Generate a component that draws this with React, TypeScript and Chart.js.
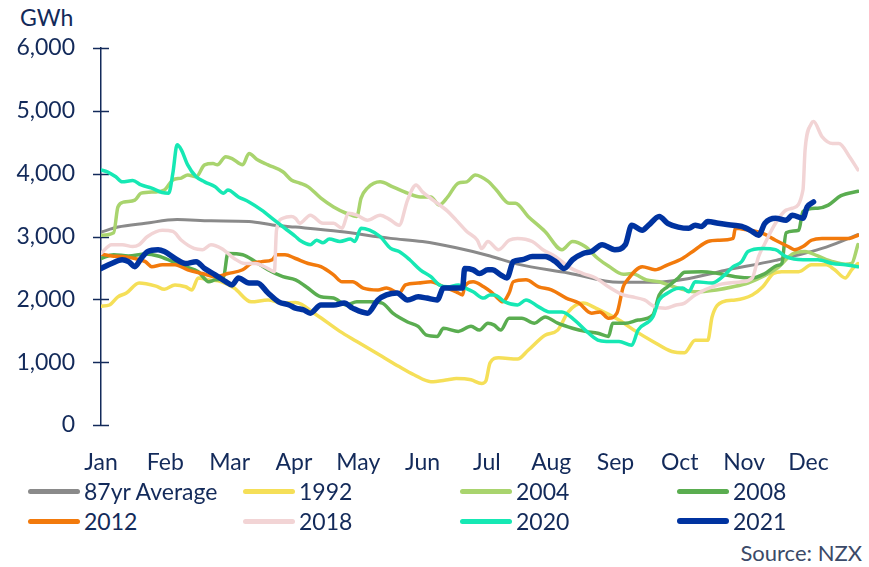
import React, { useEffect, useRef } from "react";
import { Chart, registerables } from "chart.js";

Chart.register(...registerables);

const MONTHS = ["Jan", "Feb", "Mar", "Apr", "May", "Jun", "Jul", "Aug", "Sep", "Oct", "Nov", "Dec"];
const Y_MIN = 0;
const Y_MAX = 6000;
const Y_STEP = 1000;
const X_MAX_DAY = 358.5;

// [day of year, GWh]
const AVG87: [number, number][] = [[0,3070],[8,3150],[21,3210],[36,3270],[52,3250],[70,3240],[82,3180],[92,3150],[113,3080],[137,2970],[152,2920],[168,2820],[184,2690],[197,2560],[221,2420],[245,2270],[261,2270],[276,2320],[295,2460],[319,2620],[343,2830],[358,3030]];

const Y1992: [number, number][] = [[0,1890],[4,1910],[8,2040],[12,2100],[18,2260],[26,2210],[30,2160],[35,2230],[40,2200],[43,2150],[46,2340],[51,2310],[57,2280],[63,2180],[71,1960],[79,1990],[86,1940],[92,1950],[102,1750],[113,1490],[121,1330],[129,1170],[133,1090],[141,930],[148,800],[156,690],[164,720],[168,740],[175,720],[180,660],[182,700],[184,990],[188,1070],[197,1050],[202,1190],[210,1430],[216,1510],[221,1800],[228,1940],[234,1860],[245,1670],[253,1490],[261,1330],[270,1170],[276,1150],[281,1350],[287,1350],[289,1720],[294,1960],[300,1990],[308,2070],[313,2200],[318,2410],[322,2440],[330,2440],[336,2550],[343,2550],[347,2470],[352,2340],[355,2470],[358,2570]];

const Y2004: [number, number][] = [[0,3020],[6,3060],[8,3470],[11,3550],[16,3580],[19,3690],[26,3710],[30,3740],[34,3900],[38,3930],[41,3980],[45,3950],[49,4140],[53,4160],[55,4140],[59,4270],[62,4240],[67,4140],[70,4320],[74,4220],[79,4140],[86,4030],[90,3900],[94,3850],[98,3790],[104,3610],[110,3470],[116,3370],[121,3320],[123,3610],[126,3770],[132,3870],[138,3790],[145,3690],[151,3630],[156,3630],[160,3500],[164,3630],[169,3850],[173,3870],[177,3980],[183,3880],[187,3740],[193,3530],[196,3530],[202,3320],[210,3080],[218,2790],[223,2920],[229,2840],[235,2650],[240,2530],[247,2400],[251,2410],[258,2310],[264,2280],[270,2210],[276,2150],[281,2120],[291,2150],[299,2200],[306,2260],[314,2380],[320,2500],[327,2720],[333,2760],[339,2690],[346,2600],[352,2560],[355,2570],[358,2870]];

const Y2008: [number, number][] = [[0,2650],[6,2710],[13,2690],[21,2720],[27,2690],[34,2600],[40,2520],[46,2440],[51,2280],[54,2310],[58,2360],[60,2730],[67,2710],[73,2600],[79,2470],[86,2360],[92,2310],[97,2200],[104,2040],[110,2020],[116,1910],[121,1960],[127,1960],[133,1940],[138,1780],[145,1640],[150,1570],[154,1430],[159,1410],[162,1540],[169,1490],[175,1570],[179,1510],[183,1620],[186,1590],[189,1510],[193,1700],[199,1700],[205,1620],[210,1720],[216,1620],[223,1540],[229,1490],[235,1460],[240,1410],[242,1620],[248,1620],[254,1670],[261,1750],[264,2070],[268,2200],[273,2340],[276,2430],[284,2440],[292,2410],[300,2360],[308,2340],[314,2410],[320,2540],[322,2570],[324,3060],[330,3100],[332,3400],[339,3450],[344,3500],[350,3650],[358,3720]];

const Y2012: [number, number][] = [[0,2720],[5,2690],[10,2680],[16,2650],[21,2600],[24,2520],[29,2550],[35,2550],[41,2470],[48,2410],[54,2360],[60,2410],[67,2470],[71,2570],[76,2600],[81,2630],[83,2710],[87,2710],[92,2650],[98,2570],[104,2520],[110,2390],[114,2280],[119,2280],[124,2180],[131,2150],[135,2180],[141,2100],[144,2230],[150,2260],[156,2280],[162,2200],[168,2120],[171,2070],[172,2200],[176,2280],[181,2200],[184,2130],[187,2040],[190,1960],[193,2100],[195,2280],[201,2310],[207,2200],[213,2150],[220,2020],[226,1940],[232,1780],[236,1800],[240,1700],[244,1780],[247,2200],[249,2310],[256,2520],[262,2470],[268,2550],[275,2650],[281,2790],[287,2920],[292,2940],[299,2970],[300,3130],[306,3100],[313,3050],[319,2940],[325,2840],[328,2790],[332,2840],[336,2940],[341,2970],[347,2970],[354,2970],[358,3020]];

const Y2018: [number, number][] = [[0,2730],[5,2870],[10,2870],[15,2840],[18,2870],[22,3000],[29,3100],[34,3080],[38,2940],[44,2810],[48,2790],[52,2870],[57,2810],[63,2650],[68,2570],[73,2570],[79,2490],[82,2440],[83,3100],[86,3290],[90,3320],[92,3290],[94,3210],[99,3340],[105,3210],[110,3210],[114,3130],[117,3370],[121,3340],[126,3260],[132,3340],[137,3260],[141,3180],[145,3580],[149,3820],[152,3710],[157,3580],[164,3400],[168,3260],[173,3080],[178,2940],[180,2810],[183,2920],[188,2790],[193,2940],[197,2970],[204,2920],[209,2790],[215,2680],[221,2520],[228,2410],[234,2340],[240,2200],[247,2070],[251,2040],[257,1990],[262,1880],[267,1860],[272,1910],[276,1940],[281,2070],[292,2230],[303,2280],[308,2340],[311,2680],[314,2890],[319,3210],[324,3420],[327,3450],[332,3740],[333,4380],[336,4800],[337,4830],[341,4590],[346,4480],[349,4480],[354,4270],[358,4060]];

const Y2020: [number, number][] = [[0,4060],[3,4030],[7,3950],[10,3870],[15,3890],[19,3820],[24,3770],[29,3700],[32,3690],[34,4010],[36,4460],[38,4380],[41,4140],[45,3950],[49,3870],[54,3790],[58,3690],[60,3740],[65,3630],[70,3550],[76,3420],[82,3260],[87,3130],[92,3000],[94,2940],[99,2870],[102,2940],[105,2900],[108,2960],[113,2920],[118,2960],[120,2920],[123,3130],[127,3100],[132,3000],[137,2810],[141,2760],[146,2630],[151,2470],[156,2360],[160,2230],[164,2200],[169,2230],[171,2200],[176,2120],[181,2020],[184,2070],[186,2070],[191,1960],[197,1910],[201,1990],[207,1880],[212,1800],[218,1800],[224,1670],[229,1510],[235,1350],[239,1330],[245,1330],[251,1270],[254,1510],[261,1720],[264,1990],[268,2100],[272,2170],[275,2180],[278,2120],[281,2280],[289,2260],[294,2360],[299,2520],[303,2600],[306,2760],[313,2810],[319,2790],[324,2680],[332,2630],[339,2630],[346,2570],[352,2550],[358,2520]];

const Y2021: [number, number][] = [[0,2490],[5,2570],[10,2630],[13,2600],[16,2520],[19,2650],[22,2760],[27,2790],[30,2760],[35,2650],[40,2570],[45,2600],[49,2490],[54,2390],[59,2280],[62,2230],[65,2340],[70,2260],[74,2260],[79,2100],[84,1960],[89,1910],[92,1860],[96,1830],[99,1780],[104,1910],[110,1910],[115,1940],[119,1860],[126,1780],[131,1990],[135,2070],[140,2100],[145,1990],[150,2040],[154,2020],[159,1990],[162,2180],[167,2180],[171,2180],[172,2490],[176,2470],[179,2410],[183,2470],[185,2470],[189,2390],[192,2340],[195,2600],[199,2630],[204,2680],[210,2680],[215,2600],[219,2490],[223,2630],[228,2730],[232,2760],[237,2870],[243,2790],[248,2870],[251,3180],[256,3100],[259,3180],[264,3320],[268,3210],[273,3150],[278,3130],[281,3180],[284,3160],[287,3240],[292,3210],[299,3180],[303,3160],[308,3080],[311,3020],[314,3210],[319,3290],[324,3260],[327,3340],[332,3290],[334,3470],[337,3550]];

const SERIES_LABELS = ["87yr Average", "1992", "2004", "2008", "2012", "2018", "2020", "2021"];
const SERIES_DATA = [AVG87, Y1992, Y2004, Y2008, Y2012, Y2018, Y2020, Y2021];
const SERIES_COLORS = ["#8a8a8a", "#f5df58", "#a9d46e", "#5aad50", "#f27a0c", "#f2d4d5", "#16e8b4", "#0033a0"];
const SERIES_WIDTHS = [3, 3.5, 3.5, 3.5, 3.5, 3.5, 3.5, 5.5];

const NAVY = "#132a5a";
const FONT = "Lato, 'Open Sans', sans-serif";

export default function App() {
  const ref = useRef<HTMLCanvasElement | null>(null);

  useEffect(() => {
    if (!ref.current) return;
    const crossTicks = {
      id: "crossTicks",
      beforeDatasetsDraw(chart: any) {
        const y = chart.scales.y;
        const ctx = chart.ctx;
        const x0 = chart.chartArea.left;
        ctx.save();
        ctx.strokeStyle = NAVY;
        ctx.lineWidth = 1.5;
        y.ticks.forEach((t: any) => {
          const py = Math.round(y.getPixelForValue(t.value)) + 0.5;
          ctx.beginPath();
          ctx.moveTo(x0 - 8, py);
          ctx.lineTo(x0 + 8, py);
          ctx.stroke();
        });
        ctx.restore();
      },
    };
    const datasets = SERIES_LABELS.map((label, i) => ({
      label,
      data: SERIES_DATA[i].map(([x, y]) => ({ x, y })),
      borderColor: SERIES_COLORS[i],
      backgroundColor: SERIES_COLORS[i],
      borderWidth: SERIES_WIDTHS[i],
      pointRadius: 0,
      cubicInterpolationMode: "monotone" as const,
      borderJoinStyle: "round" as const,
      borderCapStyle: "round" as const,
      fill: false,
      order: SERIES_LABELS.length - i,
    }));
    const chart = new Chart(ref.current, {
      type: "line",
      data: { datasets },
      options: {
        responsive: false,
        animation: false,
        layout: { padding: { top: 48, right: 10, left: 0, bottom: 0 } },
        plugins: {
          legend: { display: false },
          tooltip: { enabled: false },
          title: { display: false },
        },
        scales: {
          x: {
            type: "linear",
            min: 0,
            max: X_MAX_DAY,
            grid: { display: false },
            border: { display: false },
            afterBuildTicks: (s: any) => {
              s.ticks = MONTHS.map((_, i) => ({ value: (i * 365) / 12 }));
            },
            ticks: {
              autoSkip: false,
              maxRotation: 0,
              minRotation: 0,
              padding: 16,
              color: NAVY,
              font: { family: FONT, size: 23 },
              callback: (v: any) => MONTHS[Math.round(Number(v) / (365 / 12))],
            },
            afterFit: (s: any) => {
              s.height = 55;
            },
          },
          y: {
            min: Y_MIN,
            max: Y_MAX,
            grid: { display: false },
            border: { display: true, color: NAVY, width: 1.5 },
            ticks: {
              stepSize: Y_STEP,
              padding: 18,
              color: NAVY,
              font: { family: FONT, size: 23 },
              callback: (v: any) => Number(v).toLocaleString("en-US"),
            },
            afterFit: (s: any) => {
              s.width = 101;
            },
          },
        },
      },
      plugins: [crossTicks],
    });
    return () => chart.destroy();
  }, []);

  const colX = [28, 243, 460, 677];
  const rowY = [491, 521];

  return (
    <div
      style={{
        position: "fixed",
        left: 0,
        top: 0,
        width: 869,
        height: 567,
        background: "#ffffff",
        overflow: "hidden",
        fontFamily: FONT,
        color: NAVY,
      }}
    >
      <div style={{ position: "absolute", left: 20, top: 3, fontSize: 23, lineHeight: "28px" }}>GWh</div>
      <canvas ref={ref} width={869} height={480} style={{ position: "absolute", left: 0, top: 0, display: "block" }} />
      {SERIES_LABELS.map((label, i) => (
        <div
          key={label}
          style={{
            position: "absolute",
            left: colX[i % 4],
            top: rowY[Math.floor(i / 4)] - 14,
            height: 28,
            display: "flex",
            alignItems: "center",
            fontSize: 23,
            lineHeight: "28px",
            whiteSpace: "nowrap",
          }}
        >
          <span
            style={{
              display: "inline-block",
              width: 52,
              height: i === 7 ? 6 : 5,
              borderRadius: 3,
              background: SERIES_COLORS[i],
              marginRight: 4,
            }}
          />
          <span>{label}</span>
        </div>
      ))}
      <div
        style={{
          position: "absolute",
          right: 7,
          top: 539,
          fontSize: 22,
          lineHeight: "28px",
          color: "#3b4a68",
        }}
      >
        Source: NZX
      </div>
    </div>
  );
}
